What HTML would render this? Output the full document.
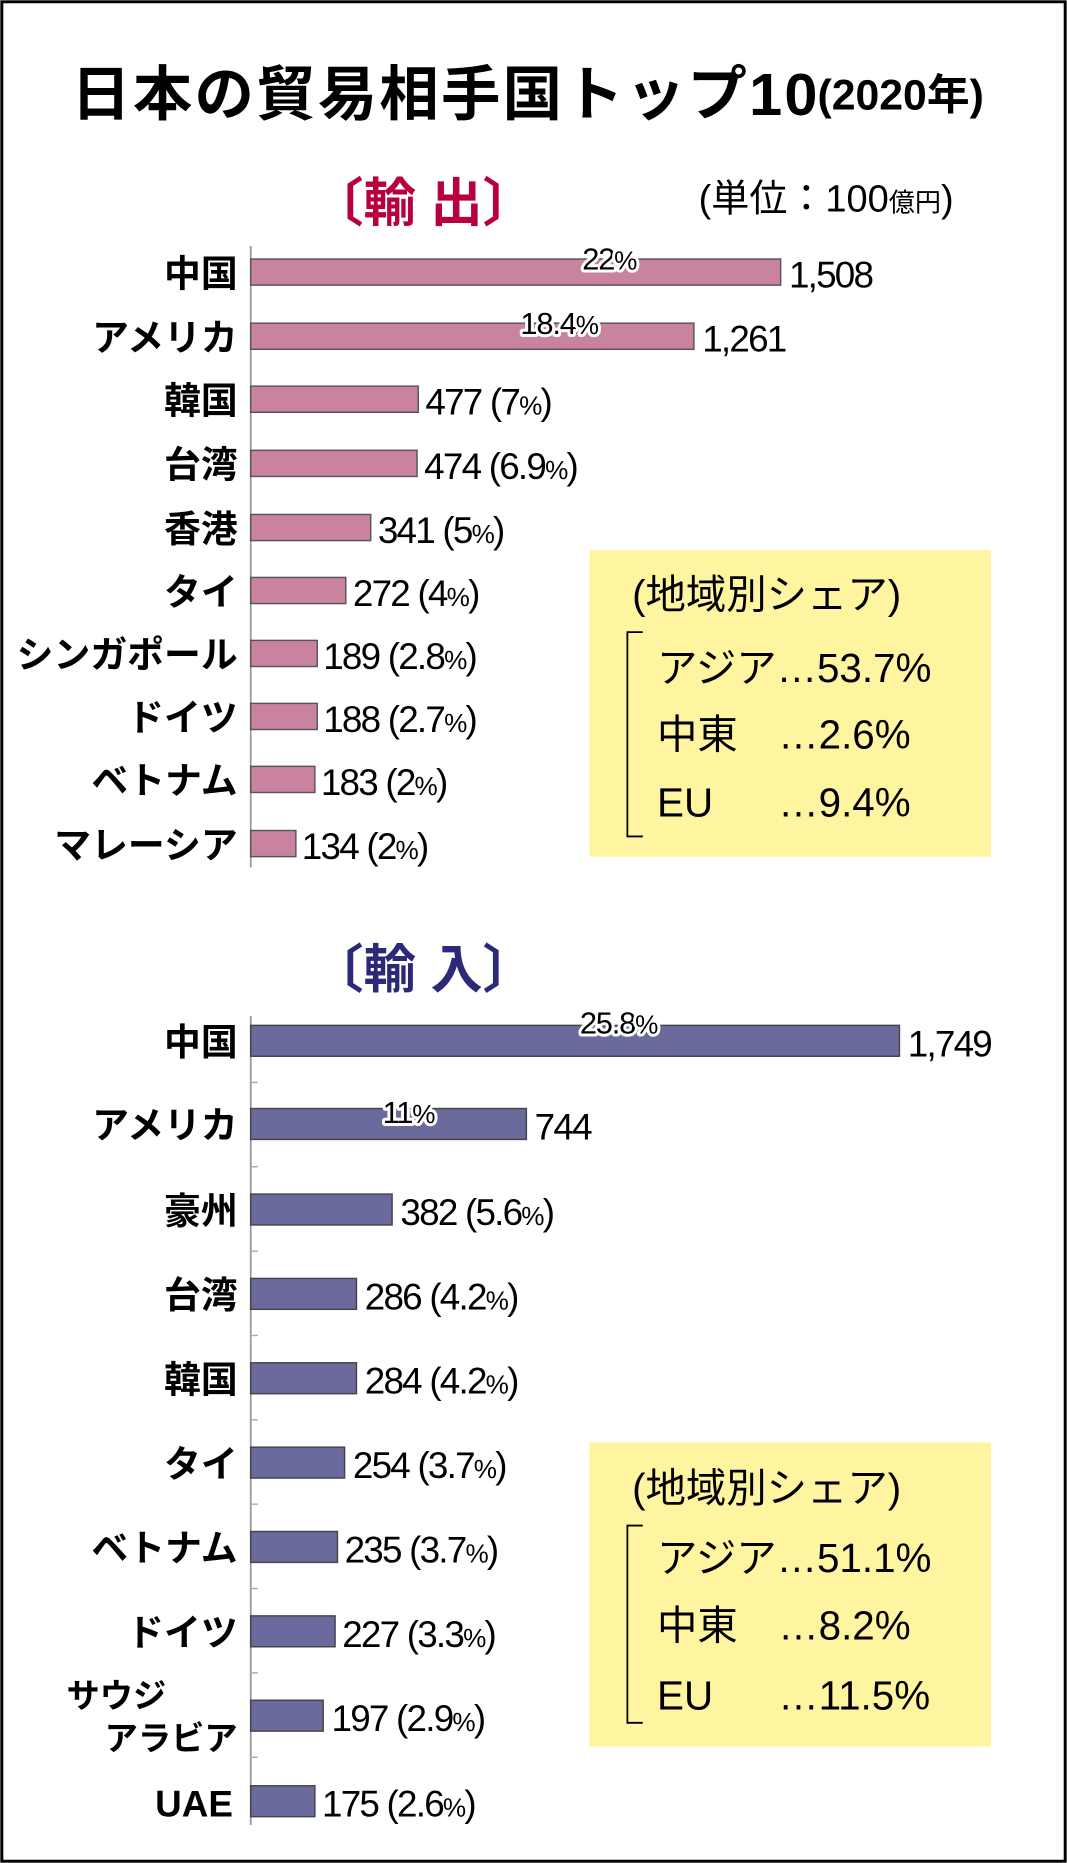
<!DOCTYPE html>
<html><head><meta charset="utf-8"><style>
html,body{margin:0;padding:0;background:#fff}
svg{display:block}
text{font-family:"Liberation Sans","Noto Sans CJK JP",sans-serif;fill:#000}
.lab{font-size:31px;text-anchor:end;font-weight:bold}
.val{font-size:31px;letter-spacing:-1.5px}
.pc{font-size:22px}
.halo{stroke:#fff;stroke-width:5px;paint-order:stroke;stroke-linejoin:round}
.box{font-size:34px}
</style></head><body>
<svg width="1067" height="1863" viewBox="0 0 898 1568" xmlns="http://www.w3.org/2000/svg">
<rect x="1.5" y="1.5" width="895" height="1565" fill="#fff" stroke="#000" stroke-width="2.5"/>
<text x="60" y="97" style="font-size:50px;font-weight:bold" textLength="628">日本の貿易相手国トップ10</text>
<text x="688" y="92" style="font-size:36px;font-weight:bold">(2020年)</text>
<text x="262" y="186" style="font-size:44px;font-weight:bold;fill:#b8003c">〔輸 出〕</text>
<text x="588" y="178" style="font-size:32px">(単位：100<tspan style="font-size:22px">億円</tspan>)</text>

<!-- export -->
<line x1="211" y1="207" x2="211" y2="730" stroke="#999" stroke-width="1.5"/>
<g fill="#c9829f" stroke="#555" stroke-width="1.2">
<rect x="211" y="218" width="446" height="22"/>
<rect x="211" y="272" width="373" height="22"/>
<rect x="211" y="325" width="141" height="22"/>
<rect x="211" y="379" width="140" height="22"/>
<rect x="211" y="433" width="101" height="22"/>
<rect x="211" y="486" width="80" height="22"/>
<rect x="211" y="539" width="56" height="22"/>
<rect x="211" y="592" width="56" height="22"/>
<rect x="211" y="645" width="54" height="22"/>
<rect x="211" y="699" width="38" height="22"/>
</g>
<g class="lab">
<text x="200" y="241">中国</text><text x="200" y="295">アメリカ</text><text x="200" y="348">韓国</text>
<text x="200" y="402">台湾</text><text x="200" y="456">香港</text><text x="200" y="509">タイ</text>
<text x="200" y="562">シンガポール</text><text x="200" y="615">ドイツ</text><text x="200" y="668">ベトナム</text>
<text x="200" y="722">マレーシア</text>
</g>
<g class="val">
<text x="664" y="242">1,508</text><text x="591" y="296">1,261</text>
<text x="358" y="349">477 (7<tspan class="pc">%</tspan>)</text>
<text x="357" y="403">474 (6.9<tspan class="pc">%</tspan>)</text>
<text x="318" y="457">341 (5<tspan class="pc">%</tspan>)</text>
<text x="297" y="510">272 (4<tspan class="pc">%</tspan>)</text>
<text x="272" y="563">189 (2.8<tspan class="pc">%</tspan>)</text>
<text x="272" y="616">188 (2.7<tspan class="pc">%</tspan>)</text>
<text x="270" y="669">183 (2<tspan class="pc">%</tspan>)</text>
<text x="254" y="723">134 (2<tspan class="pc">%</tspan>)</text>
</g>
<text class="halo" x="490" y="227" style="font-size:26px;letter-spacing:-1px">22<tspan class="pc">%</tspan></text>
<text class="halo" x="438" y="281" style="font-size:26px;letter-spacing:-1px">18.4<tspan class="pc">%</tspan></text>

<rect x="496" y="463" width="338" height="258" fill="#fff5a0"/>
<text class="box" x="532" y="512">(地域別シェア)</text>
<path d="M541 532 H528 V704 H541" fill="none" stroke="#000" stroke-width="1.5"/>
<text class="box" x="553" y="574">アジア…53.7%</text>
<text class="box" x="553" y="630">中東</text><text class="box" x="655" y="630">…2.6%</text>
<text class="box" x="553" y="687">EU</text><text class="box" x="655" y="687">…9.4%</text>

<!-- import -->
<text x="262" y="831" style="font-size:44px;font-weight:bold;fill:#2b2a78">〔輸 入〕</text>
<line x1="211" y1="855" x2="211" y2="1536" stroke="#999" stroke-width="1.5"/>
<g stroke="#aaa" stroke-width="1.2">
<line x1="211" y1="911" x2="217" y2="911"/><line x1="211" y1="982" x2="217" y2="982"/>
<line x1="211" y1="1053" x2="217" y2="1053"/><line x1="211" y1="1124" x2="217" y2="1124"/>
<line x1="211" y1="1195" x2="217" y2="1195"/><line x1="211" y1="1266" x2="217" y2="1266"/>
<line x1="211" y1="1337" x2="217" y2="1337"/><line x1="211" y1="1408" x2="217" y2="1408"/>
<line x1="211" y1="1479" x2="217" y2="1479"/>
</g>
<g fill="#6a6a9c" stroke="#444" stroke-width="1.2">
<rect x="211" y="863" width="546" height="26"/>
<rect x="211" y="933" width="232" height="26"/>
<rect x="211" y="1005" width="119" height="26"/>
<rect x="211" y="1076" width="89" height="26"/>
<rect x="211" y="1147" width="89" height="26"/>
<rect x="211" y="1218" width="79" height="26"/>
<rect x="211" y="1289" width="73" height="26"/>
<rect x="211" y="1360" width="71" height="26"/>
<rect x="211" y="1431" width="61" height="26"/>
<rect x="211" y="1503" width="54" height="26"/>
</g>
<g class="lab">
<text x="200" y="888">中国</text><text x="200" y="958">アメリカ</text><text x="200" y="1030">豪州</text>
<text x="200" y="1101">台湾</text><text x="200" y="1172">韓国</text><text x="200" y="1243">タイ</text>
<text x="200" y="1314">ベトナム</text><text x="200" y="1385">ドイツ</text>
<text x="56" y="1437" style="text-anchor:start;font-size:28px">サウジ</text>
<text x="200" y="1473" style="font-size:28px">アラビア</text>
<text x="196" y="1529">UAE</text>
</g>
<g class="val">
<text x="764" y="889">1,749</text><text x="450" y="959">744</text>
<text x="337" y="1031">382 (5.6<tspan class="pc">%</tspan>)</text>
<text x="307" y="1102">286 (4.2<tspan class="pc">%</tspan>)</text>
<text x="307" y="1173">284 (4.2<tspan class="pc">%</tspan>)</text>
<text x="297" y="1244">254 (3.7<tspan class="pc">%</tspan>)</text>
<text x="290" y="1315">235 (3.7<tspan class="pc">%</tspan>)</text>
<text x="288" y="1386">227 (3.3<tspan class="pc">%</tspan>)</text>
<text x="279" y="1457">197 (2.9<tspan class="pc">%</tspan>)</text>
<text x="271" y="1529">175 (2.6<tspan class="pc">%</tspan>)</text>
</g>
<text class="halo" x="488" y="870" style="font-size:26px;letter-spacing:-1px">25.8<tspan class="pc">%</tspan></text>
<text class="halo" x="322" y="945" style="font-size:26px;letter-spacing:-1px">11<tspan class="pc">%</tspan></text>

<rect x="496" y="1214" width="338" height="256" fill="#fff5a0"/>
<text class="box" x="532" y="1264">(地域別シェア)</text>
<path d="M541 1284 H528 V1450 H541" fill="none" stroke="#000" stroke-width="1.5"/>
<text class="box" x="553" y="1323">アジア…51.1%</text>
<text class="box" x="553" y="1380">中東</text><text class="box" x="655" y="1380">…8.2%</text>
<text class="box" x="553" y="1439">EU</text><text class="box" x="655" y="1439">…11.5%</text>
</svg>
</body></html>
